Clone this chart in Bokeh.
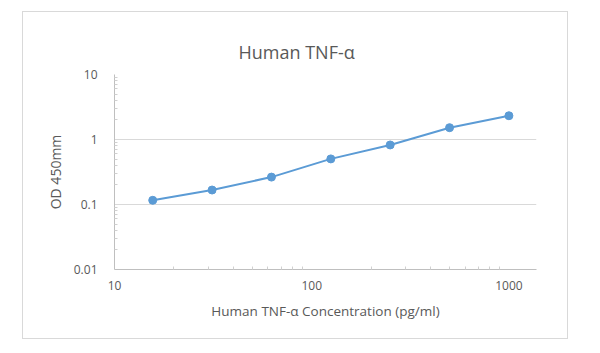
from bokeh.plotting import figure
from bokeh.models import FixedTicker, Range1d, Title
from bokeh.embed import file_html
from bokeh.resources import INLINE

concentration = [15.625, 31.25, 62.5, 125, 250, 500, 1000]
od450 = [0.116, 0.167, 0.264, 0.503, 0.824, 1.52, 2.32]
x_ticks = [10, 100, 1000]
y_ticks = [0.01, 0.1, 1, 10]

blue = "#5B9BD5"
grey_text = "#595959"
FONT = "Open Sans"

p = figure(width=546, height=328, x_axis_type="log", y_axis_type="log",
           x_range=Range1d(10, 1380), y_range=Range1d(0.01, 10),
           output_backend="svg", toolbar_location=None, title=None,
           min_border_left=91, min_border_right=33, min_border_top=62, min_border_bottom=71,
           styles={"margin-left": "22px", "margin-top": "11px", "border": "1px solid #d9d9d9"})

main_title = Title(text="Human TNF-α", align="left", offset=124, text_font=FONT,
                   text_font_size="18px", text_font_style="normal", text_color=grey_text,
                   standoff=22)
p.add_layout(main_title, "above")

p.outline_line_color = None
p.background_fill_color = "white"
p.border_fill_color = "white"

p.xgrid.grid_line_color = None
p.ygrid.grid_line_color = "#d9d9d9"
p.ygrid.grid_line_width = 1

for ax in (p.xaxis[0], p.yaxis[0]):
    ax.axis_line_color = "#bfbfbf"
    ax.major_tick_line_color = None
    ax.minor_tick_line_color = "#d0d0d0"
    ax.minor_tick_in = 3
    ax.minor_tick_out = 0
    ax.major_label_text_font = FONT
    ax.major_label_text_font_size = "12px"
    ax.major_label_text_color = grey_text
    ax.axis_label_text_font = FONT
    ax.axis_label_text_font_style = "normal"
    ax.axis_label_text_color = grey_text

p.xaxis.ticker = FixedTicker(ticks=x_ticks, minor_ticks=[20, 30, 40, 50, 60, 70, 80, 90, 200, 300, 400, 500, 600, 700, 800, 900])
p.yaxis.ticker = FixedTicker(ticks=y_ticks, minor_ticks=[0.02, 0.03, 0.04, 0.05, 0.06, 0.07, 0.08, 0.09,
                                                        0.2, 0.3, 0.4, 0.5, 0.6, 0.7, 0.8, 0.9,
                                                        2, 3, 4, 5, 6, 7, 8, 9])
p.xaxis.major_label_overrides = {10: "10", 100: "100", 1000: "1000"}
p.yaxis.major_label_overrides = {0.01: "0.01", 0.1: "0.1", 1: "1", 10: "10"}
p.xaxis.major_label_standoff = 5
p.yaxis.major_label_standoff = 11

p.xaxis.axis_label = "Human TNF-α Concentration (pg/ml)"
p.xaxis.axis_label_text_font_size = "13.5px"
p.xaxis.axis_label_standoff = 9
p.yaxis.axis_label = "OD 450mm"
p.yaxis.axis_label_text_font_size = "14px"
p.yaxis.axis_label_standoff = 6

p.line(concentration, od450, line_color=blue, line_width=2)
p.scatter(concentration, od450, size=8, fill_color=blue, line_color=blue)

open("out.html", "w").write(file_html(p, INLINE))
